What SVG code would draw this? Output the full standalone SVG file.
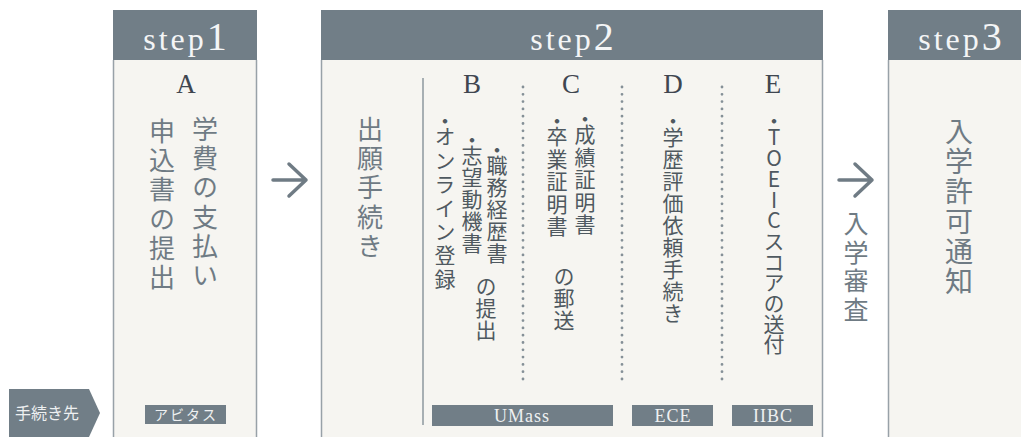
<svg xmlns="http://www.w3.org/2000/svg" width="1021" height="437" viewBox="0 0 1021 437">
<style>
.hdr{fill:#717e87}
.body{fill:#f6f5f1}
.side{stroke:#98a1a8;stroke-width:1.5;fill:none}
.htxt{font-family:"Liberation Serif",serif;fill:#f4f5f6}
.vt{font-family:"Noto Sans CJK JP",sans-serif;writing-mode:vertical-rl;text-orientation:upright;fill:#6f7b84}
.vs{font-family:"Noto Sans CJK JP",sans-serif;writing-mode:vertical-rl;text-orientation:upright;fill:#4f5960;font-size:21px}
.let{font-family:"Liberation Serif",serif;font-size:27px;fill:#3f4650;text-anchor:middle}
.tag{fill:#717e87}
.tagt{font-family:"Liberation Serif",serif;font-size:18px;fill:#eef0f1;text-anchor:middle;letter-spacing:1px}
.tagj{font-family:"Noto Sans CJK JP",sans-serif;font-size:14px;fill:#eef0f1;text-anchor:middle;letter-spacing:2px}
.dots{stroke:#859097;stroke-width:2.8;stroke-linecap:round;stroke-dasharray:0 7.3;fill:none}
.arrow{stroke:#6f7b84;stroke-width:3.5;stroke-linecap:round;stroke-linejoin:round;fill:none}
</style>
<rect width="1021" height="437" fill="#ffffff"/>

<g id="label-tetsuzukisaki">
<path class="tag" d="M9 389 H89 L100 413 L89 437 H9 Z"/>
<text x="47" y="419" font-family="Noto Sans CJK JP, sans-serif" font-size="16" fill="#eef0f1" text-anchor="middle">手続き先</text>
</g>

<g id="step1">
<rect class="body" x="113" y="60" width="144" height="377"/>
<path class="side" d="M113.5 60 V437 M256.5 60 V437"/>
<rect class="hdr" x="113" y="10" width="144" height="50"/>
<text class="htxt" x="185" y="50" text-anchor="middle"><tspan font-size="32" letter-spacing="3">step</tspan><tspan font-size="40">1</tspan></text>
<text class="let" x="186" y="93">A</text>
<text class="vt" x="205" y="116" font-size="26" letter-spacing="3.3">学費の支払い</text>
<text class="vt" x="162" y="118" font-size="26" letter-spacing="3.3">申込書の提出</text>
<rect class="tag" x="145" y="405" width="81" height="19"/>
<text class="tagj" x="186" y="420">アビタス</text>
</g>

<g id="step2">
<rect class="body" x="321" y="60" width="502" height="377"/>
<path class="side" d="M321.5 60 V437 M822.5 60 V437"/>
<rect class="hdr" x="321" y="10" width="502" height="50"/>
<text class="htxt" x="572" y="50" text-anchor="middle"><tspan font-size="32" letter-spacing="3">step</tspan><tspan font-size="40">2</tspan></text>
<text class="vt" x="370" y="116" font-size="26" letter-spacing="3.3">出願手続き</text>
<line x1="423" y1="78" x2="423" y2="425" stroke="#8d979e" stroke-width="1.5"/>
<text class="let" x="472" y="93">B</text>
<text class="let" x="571" y="93">C</text>
<text class="let" x="673" y="93">D</text>
<text class="let" x="773" y="93">E</text>
<path class="dots" d="M523 87 V380 M622 87 V380 M722 87 V380"/>
<text class="vs" x="445" y="111" letter-spacing="2.7"><tspan letter-spacing="-6">・</tspan>オンライン登録</text>
<text class="vs" x="472" y="130" letter-spacing="1"><tspan letter-spacing="-6">・</tspan>志望動機書</text>
<text class="vs" x="497" y="140" letter-spacing="1"><tspan letter-spacing="-6">・</tspan>職務経歴書</text>
<text class="vs" x="486" y="276" letter-spacing="1">の提出</text>
<text class="vs" x="557" y="111" letter-spacing="1.5"><tspan letter-spacing="-6">・</tspan>卒業証明書</text>
<text class="vs" x="585" y="109" letter-spacing="1.5"><tspan letter-spacing="-6">・</tspan>成績証明書</text>
<text class="vs" x="564" y="266" letter-spacing="1">の郵送</text>
<text class="vs" x="673" y="111" letter-spacing="1"><tspan letter-spacing="-5">・</tspan>学歴評価依頼手続き</text>
<text class="vs" x="774" y="111" letter-spacing="-0.3"><tspan letter-spacing="-5">・</tspan>TOEICスコアの送付</text>
<rect class="tag" x="432" y="405" width="181" height="21"/>
<text class="tagt" x="522" y="422">UMass</text>
<rect class="tag" x="632" y="405" width="81" height="21"/>
<text class="tagt" x="673" y="422">ECE</text>
<rect class="tag" x="732" y="405" width="81" height="21"/>
<text class="tagt" x="773" y="422">IIBC</text>
</g>

<g id="step3">
<rect class="body" x="888" y="60" width="144" height="377"/>
<path class="side" d="M888.5 60 V437"/>
<rect class="hdr" x="888" y="10" width="144" height="50"/>
<text class="htxt" x="960" y="50" text-anchor="middle"><tspan font-size="32" letter-spacing="3">step</tspan><tspan font-size="40">3</tspan></text>
<text class="vt" x="959" y="117" font-size="28" letter-spacing="2">入学許可通知</text>
</g>

<g id="connectors">
<path class="arrow" d="M273 180 H306 M289 164 L306 180 L289 196"/>
<path class="arrow" d="M839 180 H872 M855 164 L872 180 L855 196"/>
<text class="vt" x="856" y="211" font-size="25" letter-spacing="3.5">入学審査</text>
</g>
</svg>
